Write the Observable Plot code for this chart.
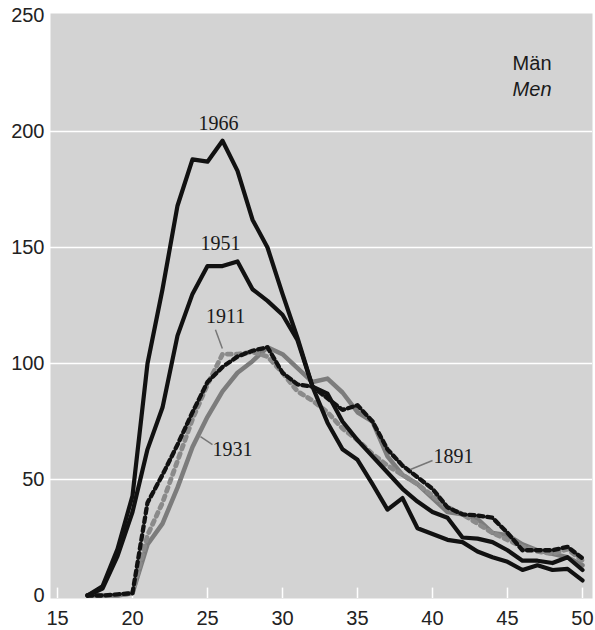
<!DOCTYPE html>
<html>
<head>
<meta charset="utf-8">
<script src="https://cdn.jsdelivr.net/npm/d3@7"></script>
<script src="https://cdn.jsdelivr.net/npm/@observablehq/plot@0.6"></script>
<style>
  html, body { margin: 0; padding: 0; background: #ffffff; }
  #chart { width: 595px; height: 630px; }
</style>
</head>
<body>
<div id="chart"></div>
<script>
// Age (x)
const ages = [17,18,19,20,21,22,23,24,25,26,27,28,29,30,31,32,33,34,35,36,37,38,39,40,41,42,43,44,45,46,47,48,49,50];

// Series values (per age)
const v1966 = [0,4,20,43,100,132,168,188,187,196,183,162,150,130,111,90,74.5,63,58.5,48,37,42,29,26.5,24,23,19,16.5,14.5,11,13,11,11.5,6.5];
const v1951 = [0,3,17,36,63,81,112,130,142,142,144,132,127,121,110,90,87,75,67,60,53,46,40.5,36,33.5,25,24.5,23,19.5,15,15,14,16.5,11];
const v1931 = [0,0,0,1,22,31,46.5,64,77,88,96,101,107,104,98,92,93.5,87.5,79,75,60,52,48,42,36,35,33,27,26,22,19.5,18,16.5,13];
const v1911 = [0,0,0,1,26,40,58,76,91,104,104,105,103,96,88,84,79,72,67,61,56,52,48,43,38,35,31,27,24,21,19,18,20,15];
const v1891 = [0,0,0.5,1,40,52,65,79,92,98.5,103,105.5,107,96,91,90,85,80,82,75,63,56,51,46,38,35,34.5,33.5,27,19.5,19.5,19.5,21,16];

// Axis ticks
const xTicks = [15,20,25,30,35,40,45,50];
const yTicks = [0,50,100,150,200,250];
const gridTicks = [50,100,150,200];

// Labels (text, data position)
const yearLabels = ["1966","1951","1911","1931","1891"];
const labelX = [25.73, 25.87, 26.2, 26.67, 41.4];
const labelY = [203.5, 151.8, 120.3, 62.9, 59.7];

// Leader lines (data coordinates)
const leaderX1 = [25.53, 24.53, 38.53];
const leaderY1 = [114.5, 68.5, 54.3];
const leaderX2 = [25.99, 25.33, 40.0];
const leaderY2 = [106.5, 65.0, 58.2];

const rows = (vals) => ages.map((a, i) => ({age: a, v: vals[i]}));
const labels = yearLabels.map((t, i) => ({t, x: labelX[i], y: labelY[i]}));
const leaders = leaderX1.map((x1, i) => ({x1, y1: leaderY1[i], x2: leaderX2[i], y2: leaderY2[i]}));

const chart = Plot.plot({
  width: 595,
  height: 630,
  marginLeft: 50,
  marginRight: 3,
  marginTop: 13,
  marginBottom: 32,
  style: {fontFamily: "Liberation Sans, Arial, sans-serif", fontSize: "20px", color: "#222", background: "#ffffff"},
  x: {domain: [14.533, 50.667]},
  y: {domain: [-1.29, 250.86]},
  marks: [
    Plot.frame({fill: "#d3d3d3", stroke: null}),
    Plot.gridY(gridTicks, {stroke: "#ffffff", strokeOpacity: 1, strokeWidth: 1.5}),
    Plot.ruleX(xTicks, {y1: -1.29, y2: 3.2, stroke: "#ffffff", strokeWidth: 1.5}),
    Plot.axisY(yTicks, {tickSize: 0, tickPadding: 6, label: null, fill: "#222"}),
    Plot.axisX(xTicks, {tickSize: 0, tickPadding: 12, label: null, fill: "#222"}),
    Plot.line(rows(v1931), {x: "age", y: "v", stroke: "#7c7c7c", strokeWidth: 4.5, strokeLinejoin: "round"}),
    Plot.line(rows(v1911), {x: "age", y: "v", stroke: "#8a8a8a", strokeWidth: 4.8, strokeDasharray: "4,5"}),
    Plot.line(rows(v1891), {x: "age", y: "v", stroke: "#111111", strokeWidth: 4.3, strokeDasharray: "5,4"}),
    Plot.line(rows(v1951), {x: "age", y: "v", stroke: "#111111", strokeWidth: 4.2, strokeLinejoin: "round"}),
    Plot.line(rows(v1966), {x: "age", y: "v", stroke: "#111111", strokeWidth: 4.2, strokeLinejoin: "round"}),
    Plot.link(leaders, {x1: "x1", y1: "y1", x2: "x2", y2: "y2", stroke: "#777777", strokeWidth: 1.5}),
    Plot.text(labels, {x: "x", y: "y", text: "t", fontFamily: "Liberation Serif, DejaVu Serif, serif", fontSize: 20, fill: "#1a1a1a"}),
    Plot.text(["Män"], {frameAnchor: "top-right", dx: -41, dy: 50, textAnchor: "end", lineAnchor: "middle", fontSize: 20, fill: "#1a1a1a"}),
    Plot.text(["Men"], {frameAnchor: "top-right", dx: -41, dy: 76, textAnchor: "end", lineAnchor: "middle", fontSize: 20, fontStyle: "italic", fill: "#1a1a1a"})
  ]
});
document.getElementById("chart").appendChild(chart);
</script>
</body>
</html>
